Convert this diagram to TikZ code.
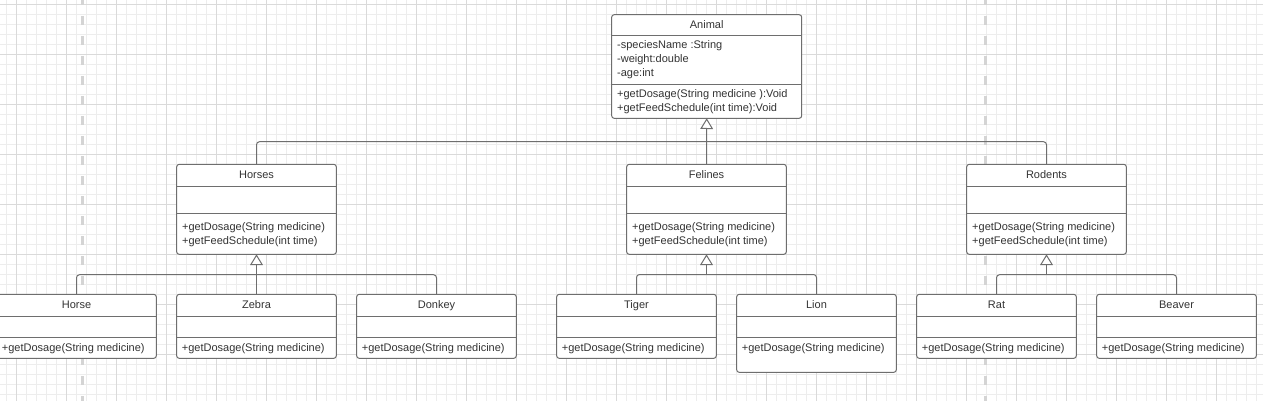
\documentclass[tikz,border=0pt]{standalone}
\usepackage{fontspec}
\setmainfont{Liberation Sans}
\usetikzlibrary{arrows.meta}
\definecolor{linec}{HTML}{6E6E6E}
\definecolor{textc}{HTML}{333333}
\definecolor{gridminor}{HTML}{EDEDED}
\definecolor{gridmajor}{HTML}{DADADA}
\definecolor{dashc}{HTML}{D4D4D4}
\tikzset{
  classbox/.style={draw=linec, line width=1pt, rounded corners=2.5pt, fill=white,
    inner sep=0pt, outer sep=0pt, anchor=north west},
  sepline/.style={draw=linec, line width=1pt},
  lbl/.style={font=\fontsize{11}{13}\selectfont, text=textc, inner sep=0pt},
  namelbl/.style={lbl, anchor=base},
  memberlbl/.style={lbl, anchor=base west},
  conn/.style={draw=linec, line width=1pt, rounded corners=3pt},
  inherit/.style={draw=linec, line width=1pt,
    -{Triangle[open, length=10.7pt, width=12.7pt, fill=white]}},
  minorgrid/.style={draw=gridminor, line width=0.8pt},
  majorgrid/.style={draw=gridmajor, line width=0.8pt},
  pagebreak/.style={draw=dashc, line width=3pt, dash pattern=on 9pt off 11pt, dash phase=4pt}
}
% id, left, top, width, height, sep1, sep2
\newcommand{\umlclassbox}[7]{%
  \node[classbox, minimum width=#4pt, minimum height=#5pt] (#1) at (#2,#3) {};
  \draw[sepline] (#2,#3+#6) -- (#2+#4,#3+#6);
  \draw[sepline] (#2,#3+#7) -- (#2+#4,#3+#7);
}
\begin{document}
\begin{tikzpicture}[x=1pt,y=-1pt]
\useasboundingbox (0,0) rectangle (1263,401);
\clip (0,0) rectangle (1263,401);
\fill[white] (0,0) rectangle (1263,401);
% grid
\foreach \k in {0,...,125} \draw[minorgrid] (6.7+10*\k,0) -- (6.7+10*\k,401);
\foreach \k in {0,...,39} \draw[minorgrid] (0,4+10*\k) -- (1263,4+10*\k);
\foreach \k in {0,...,24} \draw[majorgrid] (16.7+50*\k,0) -- (16.7+50*\k,401);
\foreach \k in {0,...,7} \draw[majorgrid] (0,4+50*\k) -- (1263,4+50*\k);
\draw[pagebreak] (82.7,0) -- (82.7,401);
\draw[pagebreak] (985.7,0) -- (985.7,401);

% Animal
\umlclassbox{animal}{611.7}{14.7}{190}{103.6}{21.3}{69.6}
\node[namelbl] (animalname) at (706.7,28.3) {Animal};
\node[memberlbl] (animala1) at (617,49) {-speciesName :String};
\node[memberlbl] (animala2) at (617,62.7) {-weight:double};
\node[memberlbl] (animala3) at (617,76.3) {-age:int};
\node[memberlbl] (animalm1) at (617,97.3) {+getDosage(String medicine ):Void};
\node[memberlbl] (animalm2) at (617,111.3) {+getFeedSchedule(int time):Void};

% middle level
\umlclassbox{horses}{176.7}{164.3}{159.6}{90}{21.7}{48.7}
\node[namelbl] (horsesname) at (256.5,178) {Horses};
\node[memberlbl] (horsesm1) at (182,230.7) {+getDosage(String medicine)};
\node[memberlbl] (horsesm2) at (182,244) {+getFeedSchedule(int time)};

\umlclassbox{felines}{626.7}{164.3}{159.6}{90}{21.7}{48.7}
\node[namelbl] (felinesname) at (706.5,178) {Felines};
\node[memberlbl] (felinesm1) at (632,230.7) {+getDosage(String medicine)};
\node[memberlbl] (felinesm2) at (632,244) {+getFeedSchedule(int time)};

\umlclassbox{rodents}{966.7}{164.3}{159.6}{90}{21.7}{48.7}
\node[namelbl] (rodentsname) at (1046.5,178) {Rodents};
\node[memberlbl] (rodentsm1) at (972,230.7) {+getDosage(String medicine)};
\node[memberlbl] (rodentsm2) at (972,244) {+getFeedSchedule(int time)};

% leaves
\umlclassbox{horse}{-3.3}{294.3}{159.6}{64}{21.7}{43}
\node[namelbl] (horsename) at (76.5,308.3) {Horse};
\node[memberlbl] (horsem1) at (1.7,351.7) {+getDosage(String medicine)};

\umlclassbox{zebra}{176.7}{294.3}{159.6}{64}{21.7}{43}
\node[namelbl] (zebraname) at (256.5,308.3) {Zebra};
\node[memberlbl] (zebram1) at (181.7,351.7) {+getDosage(String medicine)};

\umlclassbox{donkey}{356.7}{294.3}{159.6}{64}{21.7}{43}
\node[namelbl] (donkeyname) at (436.5,308.3) {Donkey};
\node[memberlbl] (donkeym1) at (361.7,351.7) {+getDosage(String medicine)};

\umlclassbox{tiger}{556.7}{294.3}{159.6}{64}{21.7}{43}
\node[namelbl] (tigername) at (636.5,308.3) {Tiger};
\node[memberlbl] (tigerm1) at (561.7,351.7) {+getDosage(String medicine)};

\umlclassbox{lion}{736.7}{294.3}{159.6}{78}{21.7}{43}
\node[namelbl] (lionname) at (816.5,308.3) {Lion};
\node[memberlbl] (lionm1) at (741.7,351.7) {+getDosage(String medicine)};

\umlclassbox{rat}{916.7}{294.3}{159.6}{64}{21.7}{43}
\node[namelbl] (ratname) at (996.5,308.3) {Rat};
\node[memberlbl] (ratm1) at (921.7,351.7) {+getDosage(String medicine)};

\umlclassbox{beaver}{1096.7}{294.3}{159.6}{64}{21.7}{43}
\node[namelbl] (beavername) at (1176.5,308.3) {Beaver};
\node[memberlbl] (beaverm1) at (1101.7,351.7) {+getDosage(String medicine)};

% connectors
\coordinate (topbar) at (706.5,141.7);
\coordinate (horsebar) at (256.5,274.7);
\coordinate (felinebar) at (706.5,274.5);
\coordinate (rodentbar) at (1046.5,274.7);

\draw[conn] (horses.north) |- (topbar) -| (rodents.north);
\draw[inherit] (felines.north) -- (animal.south);

\draw[conn] (horse.north) |- (horsebar) -| (donkey.north);
\draw[inherit] (zebra.north) -- (horses.south);

\draw[conn] (tiger.north) |- (felinebar) -| (lion.north);
\draw[inherit] (felinebar) -- (felines.south);

\draw[conn] (rat.north) |- (rodentbar) -| (beaver.north);
\draw[inherit] (rodentbar) -- (rodents.south);
\end{tikzpicture}
\end{document}
